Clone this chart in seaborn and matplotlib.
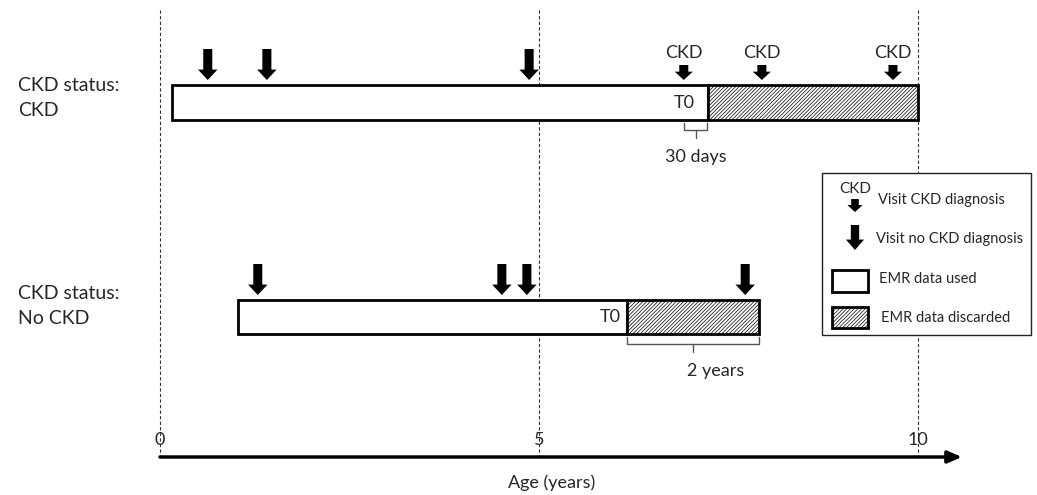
import matplotlib
matplotlib.use("Agg")
import matplotlib.pyplot as plt
from matplotlib.patches import Rectangle
import seaborn as sns

# timeline per patient (age in years)
row_labels = ["CKD status:\nCKD", "CKD status:\nNo CKD"]
used_start = [0.16, 1.03]
t0 = [7.23, 6.16]
record_end = [10.0, 7.90]
visits_no_dx = [[0.63, 1.41, 4.87], [1.29, 4.51, 4.84, 7.72]]
visits_dx = [[6.91, 7.94, 9.67], []]
bracket_start = [6.91, 6.16]
bracket_end = [7.22, 7.90]
bracket_labels = ["30 days", "2 years"]
age_ticks = [0, 5, 10]
legend_labels = ["Visit CKD diagnosis", "Visit no CKD diagnosis",
                 "EMR data used", "EMR data discarded"]

sns.set_theme(style="white")
plt.rcParams["font.family"] = ["Lato", "DejaVu Sans"]
plt.rcParams["hatch.linewidth"] = 0.5

fig = plt.figure(figsize=(10.37, 4.95), dpi=100)
ax = fig.add_axes([0, 0, 1, 1])
scale = 75.8  # px per year
ax.set_xlim(-160 / scale, (1037 - 160) / scale)
ax.set_ylim(495, 0)
ax.axis("off")

# layout (vertical, pixels)
bar_top = [85, 300]
bar_h = [35, 34]
label_y = [98, 306]
big = "simple,head_length=7.5,head_width=14,tail_width=6.5"
small = "simple,head_length=6,head_width=13,tail_width=6.5"
HATCH = "/////////"


def arrow(x, y_top, y_tip, style, z=4):
    ax.annotate("", xy=(x, y_tip), xytext=(x, y_top),
                arrowprops=dict(arrowstyle=style, mutation_scale=1, fc="black",
                                ec="black", lw=0, shrinkA=0, shrinkB=0), zorder=z)


def bracket(x0, x1, y, color="#555555"):
    xc = (x0 + x1) / 2
    ax.plot([x0, x0, x1, x1], [y, y + 7, y + 7, y], color=color, lw=1)
    ax.plot([xc, xc], [y + 7, y + 15], color=color, lw=1)


# dashed reference lines
ax.vlines(age_ticks, 10, 455, colors="#333333", linestyles=(0, (3, 2)), lw=0.8, zorder=0)

for i in range(2):
    yc = bar_top[i] + bar_h[i] / 2
    ax.barh(yc, t0[i] - used_start[i], left=used_start[i], height=bar_h[i],
            color="white", edgecolor="black", lw=2, zorder=2)
    ax.barh(yc, record_end[i] - t0[i], left=t0[i], height=bar_h[i],
            color="white", edgecolor="black", hatch=HATCH, lw=2, zorder=2)
    tip = bar_top[i] - 5
    for v in visits_no_dx[i]:
        arrow(v, tip - 31, tip, big)
    for v in visits_dx[i]:
        arrow(v, tip - 15, tip, small)
        ax.text(v, tip - 27, "CKD", ha="center", va="center", fontsize=13)
    ax.text(-1.87, label_y[i], row_labels[i], ha="left", va="center",
            fontsize=14, linespacing=1.55)
    off = 0.17 if i == 0 else 0.08
    ax.text(t0[i] - off, yc, "T0", ha="right", va="center", fontsize=13)
    by = bar_top[i] + bar_h[i] + 3
    bracket(bracket_start[i], bracket_end[i], by)
    ax.text((bracket_start[i] + bracket_end[i]) / 2 + (0.0 if i == 0 else 0.3), by + 34,
            bracket_labels[i], ha="center", va="center", fontsize=13)

# age axis
ax.annotate("", xy=(10.58, 457), xytext=(0, 457),
            arrowprops=dict(arrowstyle="-|>,head_length=0.7,head_width=0.3",
                            lw=2.5, color="black", shrinkA=0, shrinkB=0, mutation_scale=12))
for t in age_ticks:
    ax.text(t, 440, str(t), ha="center", va="center", fontsize=13)
ax.text(5.16, 483, "Age (years)", ha="center", va="center", fontsize=13)

# legend box
def px(p):
    return (p - 160) / scale

ax.add_patch(Rectangle((px(822), 173), px(1031) - px(822), 162, fc="white",
                       ec="#222222", lw=1, zorder=5))
ax.text(px(855), 189, "CKD", ha="center", va="center", fontsize=11, zorder=6)
arrow(px(855), 199, 212, "simple,head_length=5,head_width=11,tail_width=5.5", z=6)
arrow(px(855), 225, 250, "simple,head_length=7.5,head_width=13,tail_width=6", z=6)
ax.add_patch(Rectangle((px(832), 270), px(868) - px(832), 22, fc="white",
                       ec="black", lw=2, zorder=6))
ax.add_patch(Rectangle((px(832), 307), px(868) - px(832), 21, fc="white",
                       ec="black", lw=2, hatch=HATCH, zorder=6))
legend_y = [200, 239, 279, 318]
legend_x = [878, 876, 879, 881]
for lx, ly, lab in zip(legend_x, legend_y, legend_labels):
    ax.text(px(lx), ly, lab, ha="left", va="center", fontsize=10.5, zorder=6)

fig.savefig("out.png", dpi=100)
